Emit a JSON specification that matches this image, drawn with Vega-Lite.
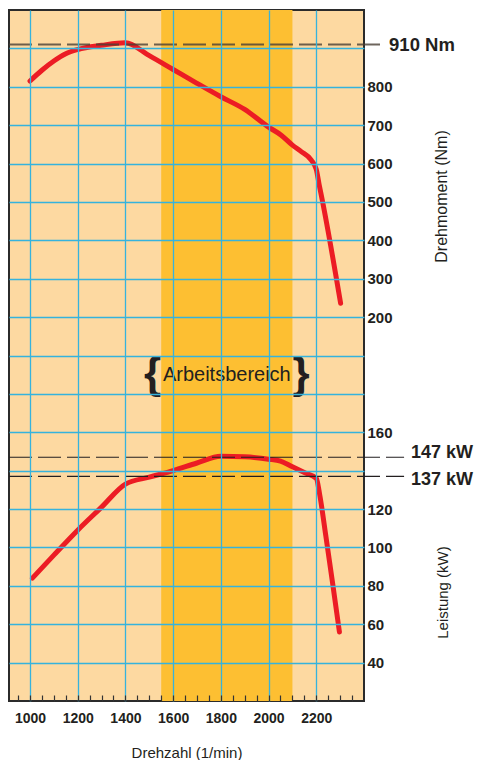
{
  "$schema": "https://vega.github.io/schema/vega-lite/v6.json",
  "width": 355,
  "height": 691,
  "padding": {"left": 8, "top": 10, "right": 0, "bottom": 0},
  "background": "white",
  "datasets": {
    "torque": [
      {"rpm": 1000, "nm": 815}, {"rpm": 1050, "nm": 843}, {"rpm": 1100, "nm": 867},
      {"rpm": 1150, "nm": 886}, {"rpm": 1200, "nm": 897}, {"rpm": 1300, "nm": 908},
      {"rpm": 1400, "nm": 915}, {"rpm": 1500, "nm": 881}, {"rpm": 1600, "nm": 845},
      {"rpm": 1700, "nm": 809}, {"rpm": 1800, "nm": 774}, {"rpm": 1900, "nm": 741},
      {"rpm": 2000, "nm": 695}, {"rpm": 2053, "nm": 674}, {"rpm": 2100, "nm": 648},
      {"rpm": 2137, "nm": 631}, {"rpm": 2179, "nm": 609}, {"rpm": 2200, "nm": 585},
      {"rpm": 2212, "nm": 545}, {"rpm": 2225, "nm": 505}, {"rpm": 2302, "nm": 236}
    ],
    "power": [
      {"rpm": 1010, "kw": 84}, {"rpm": 1100, "kw": 96}, {"rpm": 1200, "kw": 109},
      {"rpm": 1300, "kw": 121}, {"rpm": 1400, "kw": 133}, {"rpm": 1500, "kw": 136.6},
      {"rpm": 1600, "kw": 140}, {"rpm": 1700, "kw": 144}, {"rpm": 1800, "kw": 147.5},
      {"rpm": 1900, "kw": 147.2}, {"rpm": 2000, "kw": 146}, {"rpm": 2050, "kw": 145},
      {"rpm": 2100, "kw": 142}, {"rpm": 2150, "kw": 139}, {"rpm": 2200, "kw": 136},
      {"rpm": 2215, "kw": 127}, {"rpm": 2240, "kw": 106}, {"rpm": 2270, "kw": 80},
      {"rpm": 2297, "kw": 56}
    ],
    "band": [{"from": 1550, "to": 2100, "label": "Arbeitsbereich"}],
    "refNm": [{"value": 910, "label": "910 Nm"}],
    "refKw": [{"value": 147, "label": "147 kW"}, {"value": 137, "label": "137 kW"}]
  },
  "layer": [
    {
      "data": {"name": "band"},
      "mark": {"type": "rect", "color": "#fdbf32"},
      "encoding": {
        "x": {
          "field": "from", "type": "quantitative",
          "scale": {"domain": [912, 2400], "nice": false, "zero": false},
          "axis": {
            "values": [950,1000,1050,1100,1150,1200,1250,1300,1350,1400,1450,1500,1550,1600,1650,1700,1750,1800,1850,1900,1950,2000,2050,2100,2150,2200,2250,2300,2350],
            "tickCount": 200,
            "labelExpr": "datum.value % 200 === 0 ? datum.value : ''",
            "tickSize": -6, "tickColor": "#333333", "tickWidth": 1.2,
            "labelPadding": 16, "labelFontSize": 14,
            "labelOverlap": false, "labelFlush": false,
            "grid": true, "gridColor": "#35b3dd", "gridWidth": 1.3,
            "gridOpacity": {"condition": {"test": "datum.value % 200 === 0", "value": 1}, "value": 0},
            "title": "Drehzahl (1/min)", "titlePadding": 20,
            "domain": false, "zindex": 1
          }
        },
        "x2": {"field": "to"}
      }
    },
    {
      "data": {"name": "torque"},
      "mark": {"type": "line", "color": "#ec1c24", "strokeWidth": 5, "strokeCap": "round", "interpolate": "monotone"},
      "encoding": {
        "x": {"field": "rpm", "type": "quantitative"},
        "y": {
          "field": "nm", "type": "quantitative",
          "scale": {"domain": [-800, 1000], "nice": false, "zero": false},
          "axis": {
            "orient": "right",
            "values": [-700,-600,-500,-400,-300,-200,-100,0,100,200,300,400,500,600,700,800,900],
            "tickCount": 200,
            "labelExpr": "datum.value >= 200 && datum.value <= 800 ? datum.value : ''",
            "grid": true, "gridColor": "#35b3dd", "gridWidth": 1.3,
            "ticks": false, "domain": false, "labelPadding": 3,
            "labelOverlap": false,
            "title": "Drehmoment (Nm)", "titleFontSize": 16, "titleAngle": 270, "titleX": 77, "titleY": 186,
            "titleAlign": "center", "titleBaseline": "middle",
            "zindex": 1
          }
        }
      }
    },
    {
      "data": {"name": "power"},
      "mark": {"type": "line", "color": "#ec1c24", "strokeWidth": 5, "strokeCap": "round", "interpolate": "monotone"},
      "encoding": {
        "x": {"field": "rpm", "type": "quantitative"},
        "y": {
          "field": "kw", "type": "quantitative",
          "scale": {"domain": [20, 380], "nice": false, "zero": false},
          "axis": {
            "orient": "right",
            "values": [40, 60, 80, 100, 120, 140, 160],
            "tickCount": 200,
            "labelExpr": "datum.value == 140 ? '' : datum.value",
            "grid": false, "ticks": false, "domain": false, "labelPadding": 3,
            "labelOverlap": false,
            "title": "Leistung (kW)", "titleAngle": 270, "titleX": 78, "titleY": 582,
            "titleAlign": "center", "titleBaseline": "middle"
          }
        }
      }
    },
    {
      "data": {"name": "refNm"},
      "mark": {"type": "rule", "color": "#4a3f35", "strokeOpacity": 0.8, "strokeWidth": 2, "strokeDash": [23, 6]},
      "encoding": {
        "x": {"datum": 912, "type": "quantitative"},
        "x2": {"datum": 2484},
        "y": {"field": "value", "type": "quantitative", "scale": {"domain": [-800, 1000], "nice": false, "zero": false}, "axis": null}
      }
    },
    {
      "data": {"name": "refNm"},
      "mark": {"type": "text", "align": "left", "baseline": "middle", "fontSize": 18.5, "fontWeight": "bold", "color": "#231f20", "font": "Liberation Sans, Arial, sans-serif"},
      "encoding": {
        "x": {"datum": 2505, "type": "quantitative"},
        "y": {"field": "value", "type": "quantitative", "scale": {"domain": [-800, 1000], "nice": false, "zero": false}, "axis": null},
        "text": {"field": "label"}
      }
    },
    {
      "data": {"name": "refKw"},
      "mark": {"type": "rule", "color": "#231f20", "strokeWidth": 1.2, "strokeDash": [23, 6]},
      "encoding": {
        "x": {"datum": 912, "type": "quantitative"},
        "x2": {"datum": 2568},
        "y": {"field": "value", "type": "quantitative", "scale": {"domain": [20, 380], "nice": false, "zero": false}, "axis": null}
      }
    },
    {
      "data": {"name": "refKw"},
      "transform": [{"filter": "datum.value == 147"}],
      "mark": {"type": "text", "align": "left", "baseline": "middle", "dy": -4, "fontSize": 18, "fontWeight": "bold", "color": "#231f20", "font": "Liberation Sans, Arial, sans-serif"},
      "encoding": {
        "x": {"datum": 2597, "type": "quantitative"},
        "y": {"field": "value", "type": "quantitative", "scale": {"domain": [20, 380], "nice": false, "zero": false}, "axis": null},
        "text": {"field": "label"}
      }
    },
    {
      "data": {"name": "refKw"},
      "transform": [{"filter": "datum.value == 137"}],
      "mark": {"type": "text", "align": "left", "baseline": "middle", "dy": 4, "fontSize": 18, "fontWeight": "bold", "color": "#231f20", "font": "Liberation Sans, Arial, sans-serif"},
      "encoding": {
        "x": {"datum": 2597, "type": "quantitative"},
        "y": {"field": "value", "type": "quantitative", "scale": {"domain": [20, 380], "nice": false, "zero": false}, "axis": null},
        "text": {"field": "label"}
      }
    },
    {
      "data": {"name": "band"},
      "mark": {"type": "text", "align": "center", "baseline": "middle", "fontSize": 20, "color": "#231f20", "font": "Liberation Sans, Arial, sans-serif"},
      "encoding": {
        "x": {"datum": 1825, "type": "quantitative"},
        "y": {"datum": 50, "type": "quantitative", "scale": {"domain": [-800, 1000], "nice": false, "zero": false}, "axis": null},
        "text": {"field": "label"}
      }
    },
    {
      "data": {"name": "band"},
      "mark": {"type": "text", "text": "{", "align": "right", "baseline": "middle", "fontSize": 44, "fontWeight": "bold", "color": "#231f20", "font": "Liberation Sans, Arial, sans-serif"},
      "encoding": {
        "x": {"field": "from", "type": "quantitative"},
        "y": {"datum": 48, "type": "quantitative", "scale": {"domain": [-800, 1000], "nice": false, "zero": false}, "axis": null}
      }
    },
    {
      "data": {"name": "band"},
      "mark": {"type": "text", "text": "}", "align": "left", "baseline": "middle", "fontSize": 44, "fontWeight": "bold", "color": "#231f20", "font": "Liberation Sans, Arial, sans-serif"},
      "encoding": {
        "x": {"field": "to", "type": "quantitative"},
        "y": {"datum": 48, "type": "quantitative", "scale": {"domain": [-800, 1000], "nice": false, "zero": false}, "axis": null}
      }
    }
  ],
  "resolve": {"scale": {"y": "independent"}, "axis": {"y": "independent"}},
  "config": {
    "view": {"fill": "#fdd9a1", "stroke": "#2b2b2b", "strokeWidth": 2},
    "axis": {
      "labelFont": "Liberation Sans, Arial, sans-serif",
      "titleFont": "Liberation Sans, Arial, sans-serif",
      "labelFontWeight": "bold", "labelFontSize": 15, "labelColor": "#231f20",
      "titleFontWeight": "normal", "titleFontSize": 15, "titleColor": "#231f20"
    }
  }
}
